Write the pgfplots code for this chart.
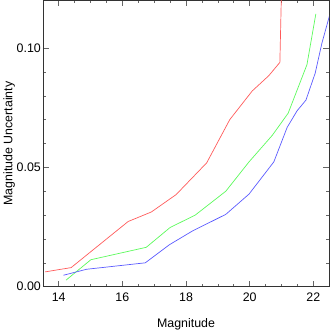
\documentclass[border=0pt]{standalone}
\usepackage{fontspec}
\setmainfont{Liberation Sans}
\usepackage{pgfplots}
\pgfplotsset{compat=1.18}
\definecolor{cr}{RGB}{255,90,90}
\definecolor{cg}{RGB}{90,250,90}
\definecolor{cb}{RGB}{90,90,255}
\begin{document}
\begin{tikzpicture}
\begin{axis}[
  scale only axis, width=289pt, height=289pt,
  xmin=13.5, xmax=22.5, ymin=0, ymax=0.12,
  xtick={14,16,...,22}, minor x tick num=3,
  ytick={0,0.05,0.10}, minor y tick num=4,
  yticklabel style={xshift=1.5pt, /pgf/number format/fixed, /pgf/number format/fixed zerofill, /pgf/number format/precision=2},
  xticklabel style={yshift=-2.5pt},
  /pgf/number format/assume math mode=true,
  tick align=inside, tick pos=both,
  major tick length=6pt, minor tick length=3pt,
  every tick/.style={gray!80!black, line width=0.5pt},
  axis line style={black!80, line width=0.6pt},
  font=\fontsize{12.5}{15}\selectfont,
  xlabel={Magnitude}, ylabel={Magnitude Uncertainty},
  xlabel style={yshift=-10pt},
  ylabel style={yshift=-5pt},
  scaled y ticks=false,
  clip=true,
]
\addplot[cr, line width=0.7pt] coordinates {
(13.57,0.0062) (14.39,0.008) (16.18,0.0273) (16.91,0.0313) (17.69,0.0386)
(18.65,0.0519) (19.375,0.070) (20.08,0.082) (20.6,0.0884) (20.95,0.094) (21.06,0.16)};
\addplot[cg, line width=0.7pt] coordinates {
(14.23,0.00275) (15.01,0.0113) (16.75,0.0165) (17.5,0.0248) (18.29,0.030)
(19.25,0.040) (19.98,0.0523) (20.71,0.0634) (21.21,0.0727) (21.8,0.093) (22.08,0.1143)};
\addplot[cb, line width=0.7pt] coordinates {
(14.15,0.0048) (14.875,0.0073) (16.72,0.010) (17.48,0.0176) (18.21,0.0234)
(19.25,0.0303) (19.98,0.0388) (20.76,0.0523) (21.18,0.0668) (21.49,0.0737)
(21.77,0.0782) (22.06,0.0895) (22.27,0.102) (22.56,0.116)};
\end{axis}
\end{tikzpicture}
\end{document}
